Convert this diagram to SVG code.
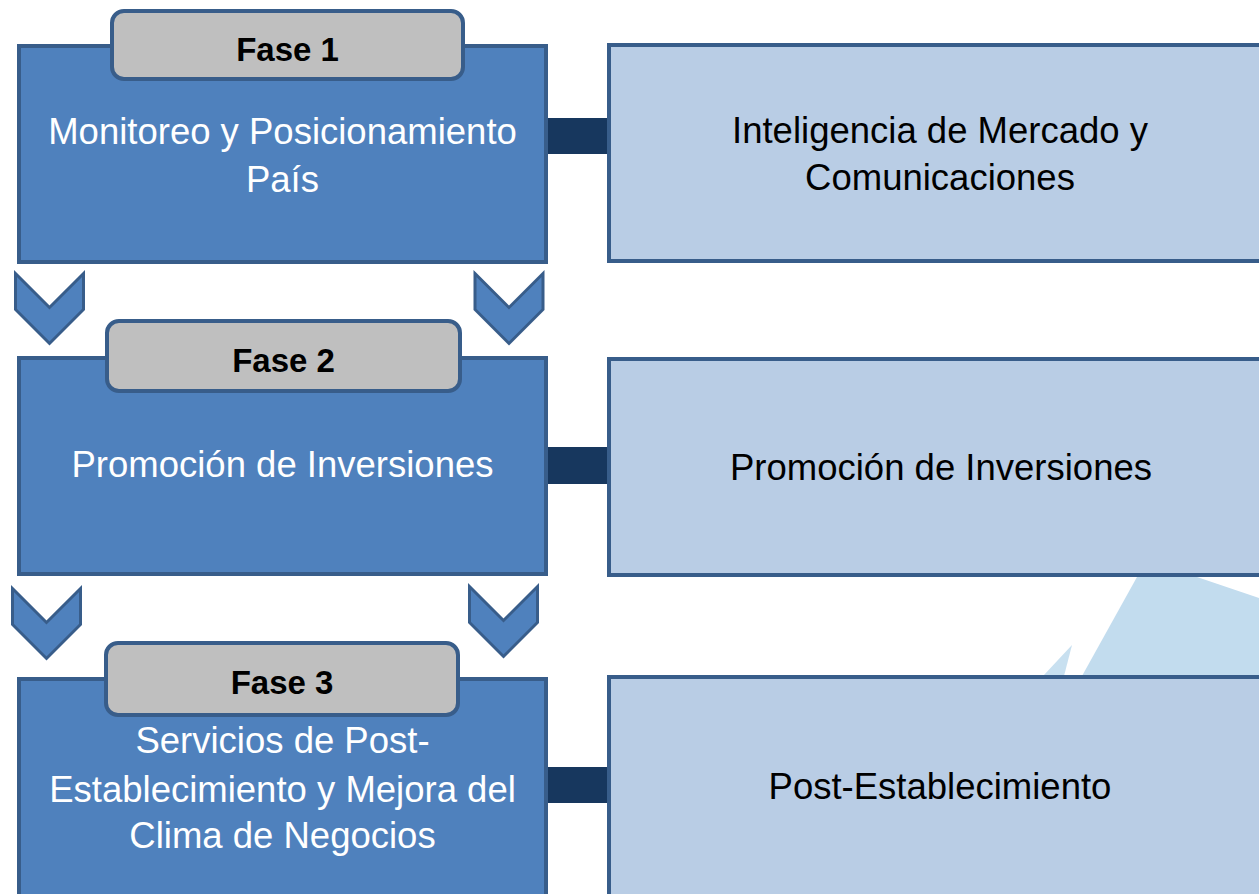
<svg xmlns="http://www.w3.org/2000/svg" xmlns:xlink="http://www.w3.org/1999/xlink" width="1259" height="894" viewBox="0 0 1259 894">
<style>
.phase{fill:#4f81bd;stroke:#385d8a;stroke-width:4}
.unit{fill:#b9cde5;stroke:#385d8a;stroke-width:4}
.tab{fill:#bfbfbf;stroke:#385d8a;stroke-width:4}
.bar{fill:#17375e}
.chev{fill:#4f81bd;stroke:#385d8a;stroke-width:3;stroke-linejoin:miter}
.t{font-family:"Liberation Sans",Arial,sans-serif;font-size:36.5px;text-anchor:middle}
.w{fill:#ffffff}
.k{fill:#000000}
.f{font-family:"Liberation Sans",Arial,sans-serif;font-size:33px;font-weight:bold;text-anchor:middle;fill:#000000}
</style>
<defs>
<path id="chevron" class="chev" d="M0,0 L34,34 L68,0 L68,36 L34,70 L0,36 Z"/>
</defs>
<rect width="1259" height="894" fill="#ffffff"/>
<g id="watermark">
<polygon points="1137,577 1197,577 1259,598 1259,676 1082,676" fill="#c2dcee"/>
<polygon points="1043,676 1072,645 1064,676" fill="#c8e0f0"/>
</g>
<g id="connectors">
<rect class="bar" x="547" y="118" width="62" height="36"/>
<rect class="bar" x="547" y="447" width="62" height="37"/>
<rect class="bar" x="547" y="767" width="62" height="36"/>
<use xlink:href="#chevron" href="#chevron" transform="translate(15.5,273.5)"/>
<use xlink:href="#chevron" href="#chevron" transform="translate(475,273.5)"/>
<use xlink:href="#chevron" href="#chevron" transform="translate(12.5,588.5)"/>
<use xlink:href="#chevron" href="#chevron" transform="translate(469.5,586.5)"/>
</g>
<g id="fase1">
<rect class="phase" x="19" y="46" width="527" height="216"/>
<rect class="tab" x="112" y="11" width="351" height="68" rx="12"/>
<text class="f" x="287.5" y="61">Fase 1</text>
<text class="t w" x="282.5" y="144">Monitoreo y Posicionamiento</text>
<text class="t w" x="282.5" y="192">País</text>
</g>
<g id="unit1">
<rect class="unit" x="609" y="45" width="664" height="216"/>
<text class="t k" x="940" y="143">Inteligencia de Mercado y</text>
<text class="t k" x="940" y="190">Comunicaciones</text>
</g>
<g id="fase2">
<rect class="phase" x="19" y="358" width="527" height="216"/>
<rect class="tab" x="107" y="321" width="353" height="70" rx="12"/>
<text class="f" x="283.5" y="372">Fase 2</text>
<text class="t w" x="282.5" y="477">Promoción de Inversiones</text>
</g>
<g id="unit2">
<rect class="unit" x="609" y="359" width="664" height="216"/>
<text class="t k" x="941" y="480">Promoción de Inversiones</text>
</g>
<g id="fase3">
<rect class="phase" x="19" y="679" width="527" height="230"/>
<rect class="tab" x="106" y="643" width="352" height="72" rx="12"/>
<text class="f" x="282" y="694">Fase 3</text>
<text class="t w" x="282.5" y="753">Servicios de Post-</text>
<text class="t w" x="282.5" y="802">Establecimiento y Mejora del</text>
<text class="t w" x="282.5" y="848">Clima de Negocios</text>
</g>
<g id="unit3">
<rect class="unit" x="609" y="677" width="664" height="230"/>
<text class="t k" x="940" y="799">Post-Establecimiento</text>
</g>
</svg>
